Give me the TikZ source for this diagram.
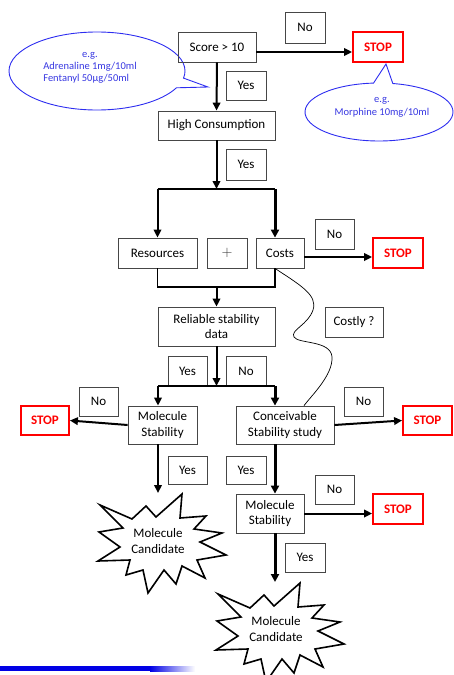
\documentclass[tikz,border=0pt]{standalone}
\usepackage{fontspec}
\setmainfont{Carlito}
\usetikzlibrary{shapes.callouts,arrows.meta,calc}
\definecolor{cblue}{RGB}{45,45,240}
\definecolor{tblue}{RGB}{55,55,225}
\definecolor{bord}{RGB}{70,70,70}
\begin{document}
\begin{tikzpicture}[x=1pt,y=-1pt,
  mainfont/.style={font=\fontsize{13}{15.5}\selectfont},
  box/.style={draw=bord, line width=0.8pt, inner sep=0pt, align=center, mainfont},
  lab/.style={draw=bord, line width=0.8pt, inner sep=0pt, minimum width=40, minimum height=30, mainfont},
  stopbox/.style={draw=red, line width=1.8pt, inner sep=0pt, minimum width=50, minimum height=30, text=red, font=\fontsize{13}{15}\selectfont\bfseries},
  arr/.style={line width=2pt, -{Triangle[length=8pt,width=7.5pt]}},
  tarr/.style={line width=3pt, -{Triangle[length=8pt,width=8pt]}},
  ln/.style={line width=1.2pt},
  callout/.style={ellipse callout, draw=cblue, line width=0.9pt, inner sep=0pt},
  ctext/.style={text=tblue, font=\fontsize{10.5}{13}\selectfont, align=center, inner sep=0pt},
  burst/.style={draw=black, line width=1.6pt, line join=miter}
]
\useasboundingbox (0,0) rectangle (454,675);

% callouts
\node[callout, minimum width=176, minimum height=78, callout absolute pointer={(208,87)}] (cl1) at (97,71) {};
\node[ctext] (cl1t) at (90,67) {\begin{tabular}{@{}l@{}}\multicolumn{1}{@{}c@{}}{e.g.}\\[-1pt]Adrenaline 1mg/10ml\\[-1pt]Fentanyl 50µg/50ml\end{tabular}};
\node[callout, minimum width=148, minimum height=58, callout absolute pointer={(386,64)}] (cl2) at (379,112) {};
\node[ctext] (cl2t) at (382,107) {e.g.\\Morphine 10mg/10ml};

% main nodes
\node[box, minimum width=78, minimum height=30] (score) at (217,47) {Score > 10};
\node[lab, minimum width=40, minimum height=31] (no1) at (305,27.5) {No};
\node[stopbox] (stop1) at (378,47) {STOP};
\node[lab, minimum height=29] (yes1) at (246,85.5) {Yes};
\node[box, minimum width=117, minimum height=29] (high) at (216.5,125.5) {High Consumption};
\node[lab, minimum height=31] (yes2) at (246,164.5) {Yes};
\node[box, minimum width=79, minimum height=30] (res) at (157.5,253) {Resources};
\node[box, minimum width=40, minimum height=30, text=black!80] (plus) at (227,253) {\raisebox{-3pt}{\fontsize{15}{15}\selectfont\addfontfeature{}$+$}};
\node[box, minimum width=48, minimum height=30] (costs) at (280,253) {Costs};
\node[lab, minimum width=39] (no2) at (334.5,234) {No};
\node[stopbox] (stop2) at (398,253) {STOP};
\node[box, minimum width=117, minimum height=39] (rel) at (216.5,326.5) {Reliable stability\\data};
\node[lab, minimum width=58] (costly) at (354,322) {Costly ?};
\node[lab, minimum width=39] (yes3) at (187.5,371) {Yes};
\node[lab] (no3) at (246,371) {No};
\node[box, minimum width=69, minimum height=38] (ms1) at (162.5,425) {Molecule\\Stability};
\node[box, minimum width=98, minimum height=38] (conc) at (285,425) {Conceivable\\Stability study};
\node[lab, minimum width=39, minimum height=29] (no4) at (98.5,401.5) {No};
\node[stopbox, minimum width=48, minimum height=29] (stop3) at (45,420.5) {STOP};
\node[lab, minimum width=39, minimum height=29] (no5) at (363.5,401.5) {No};
\node[stopbox, minimum width=49, minimum height=29] (stop4) at (427.5,420.5) {STOP};
\node[lab, minimum width=39, minimum height=28] (yes4) at (187.5,470) {Yes};
\node[lab, minimum height=28] (yes5) at (246,470) {Yes};
\node[lab, minimum width=39, minimum height=29] (no6) at (334.5,489.5) {No};
\node[box, minimum width=68, minimum height=39] (ms2) at (270,513.5) {Molecule\\Stability};
\node[stopbox] (stop5) at (398,509) {STOP};
\node[lab, minimum height=29] (yes6) at (305,557.5) {Yes};

% starbursts
\draw[burst, shift={(162,543)}] (-62,-38) -- (-30,-24) -- (-16,-37) -- (-6,-26) -- (20,-49) -- (18,-25) -- (44,-27) -- (32,-14) -- (60,-10) -- (38,-1) -- (64,12) -- (35,17) -- (43,35) -- (20,23) -- (14,41) -- (2,27) -- (-14,50) -- (-19,27) -- (-36,32) -- (-32,17) -- (-64,18) -- (-42,4) -- (-63,-11) -- (-39,-15) -- cycle;
\node[box, draw=none, align=center] (cand1) at (158,541) {Molecule\\Candidate};
\draw[burst, shift={(280,632)}] (-62,-38) -- (-30,-24) -- (-16,-37) -- (-6,-26) -- (20,-49) -- (18,-25) -- (44,-27) -- (32,-14) -- (60,-10) -- (38,-1) -- (64,12) -- (35,17) -- (43,35) -- (20,23) -- (14,41) -- (2,27) -- (-14,50) -- (-19,27) -- (-36,32) -- (-32,17) -- (-64,18) -- (-42,4) -- (-63,-11) -- (-39,-15) -- cycle;
\node[box, draw=none, align=center] (cand2) at (276,629) {Molecule\\Candidate};

% junction coordinates
\coordinate (j1) at (216.5,189);
\coordinate (j1l) at (157.5,189);
\coordinate (j1r) at (275,189);
\coordinate (j2) at (216.5,287);
\coordinate (j2l) at (157.5,287);
\coordinate (j2r) at (275,287);
\coordinate (j3) at (216.5,386);
\coordinate (j3l) at (158,386);
\coordinate (j3r) at (275,386);
\coordinate (c1top) at (158,493);
\coordinate (c2top) at (275,582);

% connectors
\draw[arr] (score.south) -- (high.north);
\draw[arr] ([yshift=-5pt]score.east) -- ([yshift=-5pt]stop1.west);
\draw[arr] (high.south) -- (j1);
\draw[ln] (j1l) -- (j1r);
\draw[arr] (j1l) -- (res.north);
\draw[tarr] (j1r) -- (j1r |- costs.north);
\draw[arr] ([yshift=-4pt]costs.east) -- ([yshift=-4pt]stop2.west);
\draw[ln] (res.south) -- (j2l) -- (j2r) -- (j2r |- costs.south);
\draw[arr] (j2) -- (rel.north);
\draw[arr] (rel.south) -- (j3);
\draw[ln] (j3l) -- (j3r);
\draw[arr] (j3l) -- (j3l |- ms1.north);
\draw[tarr] (j3r) -- (j3r |- conc.north);
\draw[arr] (ms1.west) -- (stop3.east);
\draw[arr] (conc.east) -- (stop4.west);
\draw[arr] (j3l |- ms1.south) -- (c1top);
\draw[tarr] (j3r |- conc.south) -- (j3r |- ms2.north);
\draw[arr] (ms2.east) -- (ms2.east -| stop5.west);
\draw[tarr] (j3r |- ms2.south) -- (c2top);
\draw[line width=0.7pt] (j2r |- costs.south) .. controls (300,285) and (318,295) .. (313,310) .. controls (308,325) and (290,330) .. (294,337) .. controls (298,344) and (331,340) .. (332,357) .. controls (333,375) and (312,395) .. (conc.north -| 304,0);

% bottom bar
\fill[blue!90!black] (0,666) rectangle (150,671);
\shade[left color=blue!90!black, right color=white] (150,666) rectangle (195,671);
\end{tikzpicture}
\end{document}
